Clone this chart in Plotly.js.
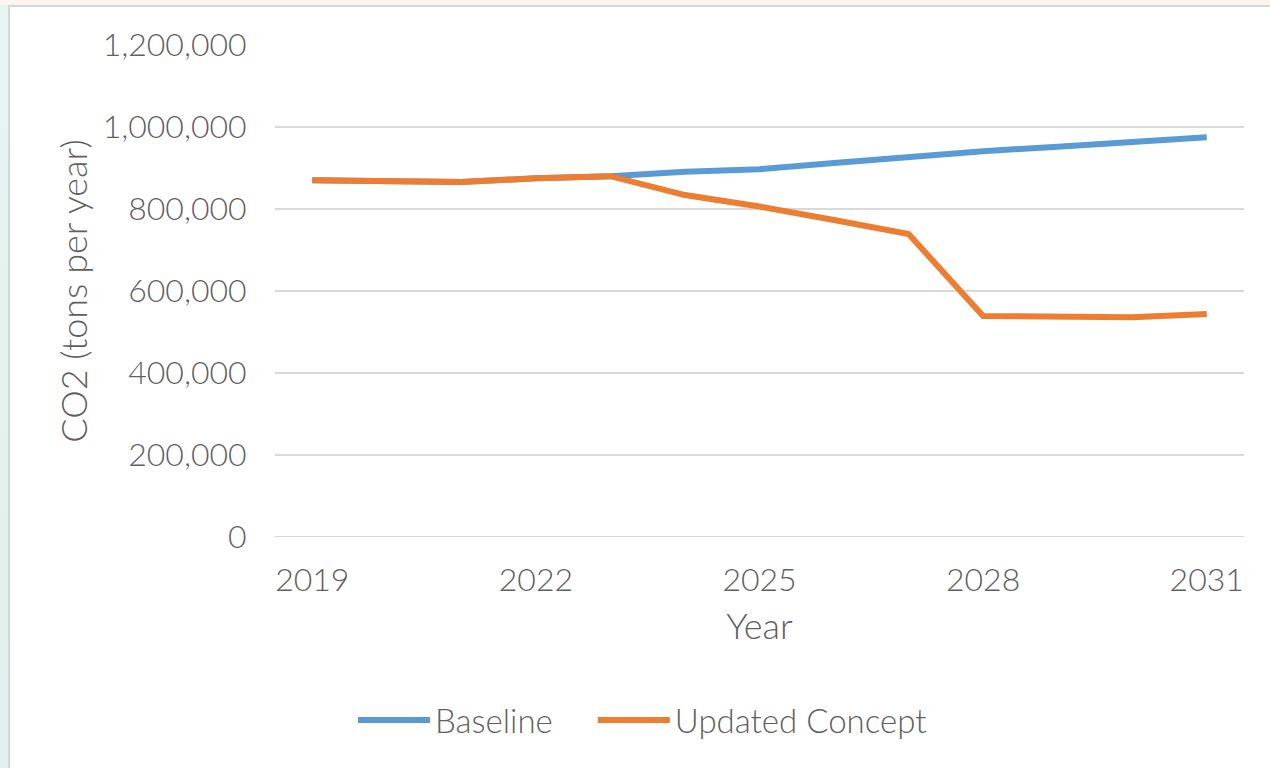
<!DOCTYPE html>
<html>
<head>
<meta charset="utf-8">
<script src="https://cdn.plot.ly/plotly-3.0.1.min.js"></script>
<style>
  html, body { margin: 0; padding: 0; width: 1270px; height: 768px; overflow: hidden; }
  body { background: linear-gradient(180deg, #e6f5f1 0%, #dff1ec 100%); position: relative; }
  #topstrip { position: absolute; left: 0; top: 0; width: 1270px; height: 5px; background: #fbf5ee; }
  #frame { position: absolute; left: 8px; top: 5px; width: 1262px; height: 763px; background: #fff;
           border-left: 2px solid #d6d6d6; border-top: 2px solid #d6d6d6; }
  #chart { position: absolute; left: 0; top: 0; width: 1260px; height: 761px; }
</style>
</head>
<body>
<div id="topstrip"></div>
<div id="frame"><div id="chart"></div></div>
<script>
const years = [2019, 2020, 2021, 2022, 2023, 2024, 2025, 2026, 2027, 2028, 2029, 2030, 2031];
const baseline = [870000, 867000, 866000, 875000, 880000, 891000, 897000, 912000, 927000, 941000, 952000, 962000, 975000];
const updatedConcept = [870000, 867000, 866000, 875000, 880000, 834000, 806000, 773000, 739000, 539000, 536000, 536000, 544000];
const xTicks = [2019, 2022, 2025, 2028, 2031];
const yTicks = [0, 200000, 400000, 600000, 800000, 1000000, 1200000];
const seriesNames = ['Baseline', 'Updated Concept'];
const seriesColors = ['#5b9bd5', '#ed7d31'];
const legendIds = ['legend', 'legend2'];

const fontFam = 'Lato, "Open Sans", sans-serif';
const textColor = '#5f5f5f';
const tickFont = { family: fontFam, size: 32, color: textColor, weight: 300 };
const titleFont = { family: fontFam, size: 36, color: textColor, weight: 300 };
const legendFont = { family: fontFam, size: 33, color: textColor, weight: 300 };

const traces = [baseline, updatedConcept].map((vals, i) => ({
  type: 'scatter',
  mode: 'lines',
  x: years,
  y: vals,
  name: seriesNames[i],
  legend: legendIds[i],
  line: { color: seriesColors[i], width: 6 },
  hoverinfo: 'x+y+name'
}));

const legendBase = {
  orientation: 'h',
  xanchor: 'left',
  y: -0.372, yanchor: 'middle',
  font: legendFont,
  itemwidth: 72,
  bgcolor: 'rgba(0,0,0,0)'
};

const layout = {
  width: 1260,
  height: 761,
  margin: { l: 265, r: 26, t: 38, b: 231 },
  paper_bgcolor: '#ffffff',
  plot_bgcolor: '#ffffff',
  font: { family: fontFam, color: textColor, size: 32, weight: 300 },
  showlegend: true,
  legend: Object.assign({}, legendBase, { x: 0.0805 }),
  legend2: Object.assign({}, legendBase, { x: 0.328 }),
  xaxis: {
    range: [2018.5, 2031.5],
    tickvals: xTicks,
    ticktext: xTicks.map(String),
    showgrid: false,
    zeroline: false,
    showline: false,
    ticks: 'outside', ticklen: 15, tickcolor: 'rgba(0,0,0,0)',
    tickfont: tickFont,
    title: { text: 'Year', font: titleFont, standoff: 16 },
    fixedrange: true
  },
  yaxis: {
    range: [0, 1200000],
    tickvals: yTicks,
    tickformat: ',d',
    showgrid: true,
    gridcolor: '#d9d9d9',
    gridwidth: 2,
    zeroline: false,
    showline: false,
    ticks: 'outside', ticklen: 21, tickcolor: 'rgba(0,0,0,0)',
    tickfont: tickFont,
    title: { text: 'CO2 (tons per year)', font: titleFont, standoff: 4 },
    automargin: false,
    fixedrange: true
  },
  shapes: [{
    type: 'line', xref: 'paper', yref: 'y', x0: 0, x1: 1, y0: 0, y1: 0,
    line: { color: '#d9d9d9', width: 2 }, layer: 'below'
  }]
};

Plotly.newPlot('chart', traces, layout, { displayModeBar: false });
</script>
</body>
</html>
